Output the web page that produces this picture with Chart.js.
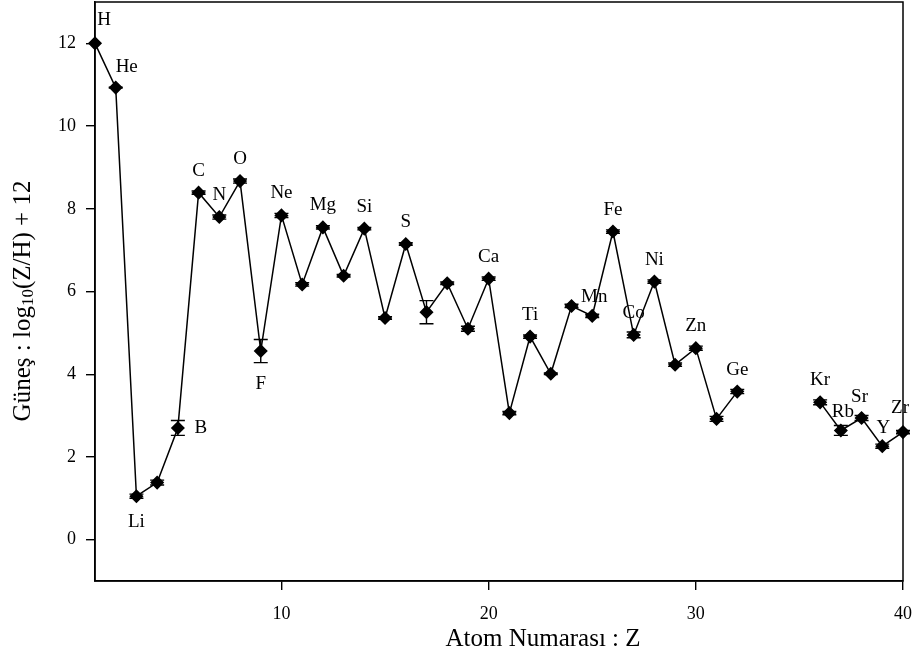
<!DOCTYPE html>
<html>
<head>
<meta charset="utf-8">
<script src="https://cdn.jsdelivr.net/npm/chart.js@4/dist/chart.umd.min.js"></script>
<style>
html, body { margin: 0; padding: 0; background: #fff; }
#wrap { width: 914px; height: 661px; position: relative; }
</style>
</head>
<body>
<div id="wrap"><canvas id="grafico"></canvas></div>
<script>
// Güneş bolluklari: Z, element, log10(Z/H)+12 ve hata
const atomNumbers = [1, 2, 3, 4, 5, 6, 7, 8, 9, 10, 11, 12, 13, 14, 15, 16, 17, 18, 19, 20,
    21, 22, 23, 24, 25, 26, 27, 28, 29, 30, 31, 32, 36, 37, 38, 39, 40];
const symbols = ['H', 'He', 'Li', 'Be', 'B', 'C', 'N', 'O', 'F', 'Ne', 'Na', 'Mg', 'Al', 'Si', 'P', 'S', 'Cl', 'Ar', 'K', 'Ca',
    'Sc', 'Ti', 'V', 'Cr', 'Mn', 'Fe', 'Co', 'Ni', 'Cu', 'Zn', 'Ga', 'Ge', 'Kr', 'Rb', 'Sr', 'Y', 'Zr'];
const abundances = [12.00, 10.93, 1.05, 1.38, 2.70, 8.39, 7.80, 8.67, 4.56, 7.84, 6.17, 7.55, 6.38, 7.52, 5.36, 7.15, 5.50, 6.20, 5.10, 6.31,
    3.06, 4.91, 4.01, 5.65, 5.41, 7.45, 4.95, 6.24, 4.23, 4.63, 2.92, 3.58, 3.32, 2.64, 2.94, 2.26, 2.60];
const errors = [0.00, 0.01, 0.05, 0.06, 0.18, 0.04, 0.05, 0.05, 0.28, 0.05, 0.04, 0.04, 0.03, 0.03, 0.03, 0.03, 0.28, 0.03, 0.06, 0.04,
    0.04, 0.04, 0.02, 0.04, 0.04, 0.04, 0.07, 0.04, 0.04, 0.05, 0.06, 0.05, 0.06, 0.12, 0.06, 0.05, 0.04];
const labelledSymbols = ['H', 'He', 'Li', 'B', 'C', 'N', 'O', 'F', 'Ne', 'Mg', 'Si', 'S', 'Ca', 'Ti', 'Mn',
    'Fe', 'Co', 'Ni', 'Zn', 'Ge', 'Kr', 'Rb', 'Sr', 'Y', 'Zr'];
const xTicks = [10, 20, 30, 40];
const yTicks = [0, 2, 4, 6, 8, 10, 12];

const serif = "'Liberation Serif', 'Times New Roman', serif";

// etiketlerin noktaya gore kaydirmasi (px)
const labelOffset = {
    H: [9, -23], He: [11, -21], Li: [0, 26], B: [23, 0], F: [0, 33], Mn: [2, -19],
    Rb: [2, -18], Sr: [-2, -21], Y: [1, -18], Zr: [-3, -24]
};

const noktalar = atomNumbers.map((z, i) => ({ x: z, y: abundances[i] }));

const hataCubuklari = {
    id: 'hataCubuklari',
    afterDatasetsDraw(chart) {
        const ctx = chart.ctx;
        const xs = chart.scales.x, ys = chart.scales.y;
        ctx.save();
        ctx.strokeStyle = '#000';
        ctx.lineWidth = 1.4;
        atomNumbers.forEach((z, i) => {
            if (!errors[i]) return;
            const px = xs.getPixelForValue(z);
            const yTop = ys.getPixelForValue(abundances[i] + errors[i]);
            const yBot = ys.getPixelForValue(abundances[i] - errors[i]);
            ctx.beginPath();
            ctx.moveTo(px, yTop); ctx.lineTo(px, yBot);
            ctx.moveTo(px - 7, yTop); ctx.lineTo(px + 7, yTop);
            ctx.moveTo(px - 7, yBot); ctx.lineTo(px + 7, yBot);
            ctx.stroke();
        });
        ctx.restore();
    }
};

const etiketler = {
    id: 'etiketler',
    afterDraw(chart) {
        const ctx = chart.ctx;
        const xs = chart.scales.x, ys = chart.scales.y;
        const area = chart.chartArea;
        ctx.save();
        ctx.fillStyle = '#000';
        ctx.textAlign = 'center';
        ctx.textBaseline = 'middle';
        ctx.font = '19px ' + serif;
        symbols.forEach((s, i) => {
            if (!labelledSymbols.includes(s)) return;
            const off = labelOffset[s] || [0, -22];
            ctx.fillText(s, xs.getPixelForValue(atomNumbers[i]) + off[0], ys.getPixelForValue(abundances[i]) + off[1]);
        });

        // cerceve
        ctx.strokeStyle = '#000';
        ctx.lineWidth = 1.5;
        ctx.strokeRect(area.left, area.top, area.right - area.left, area.bottom - area.top);

        // x ekseni basligi
        ctx.font = '25px ' + serif;
        ctx.fillText('Atom Numarası : Z', 543, 639);

        // y ekseni basligi, alt indisli log10
        const parts = [
            { t: 'Güneş : log', f: '25px ' + serif, dy: 0 },
            { t: '10', f: '17px ' + serif, dy: 6 },
            { t: '(Z/H) + 12', f: '25px ' + serif, dy: 0 }
        ];
        let total = 0;
        parts.forEach(p => { ctx.font = p.f; p.w = ctx.measureText(p.t).width; total += p.w; });
        ctx.translate(23, 301);
        ctx.rotate(-Math.PI / 2);
        ctx.textAlign = 'left';
        let x = -total / 2;
        parts.forEach(p => {
            ctx.font = p.f;
            ctx.fillText(p.t, x, p.dy);
            x += p.w;
        });
        ctx.restore();
    }
};

new Chart(document.getElementById('grafico'), {
    type: 'line',
    data: {
        datasets: [{
            data: noktalar,
            borderColor: '#000',
            borderWidth: 1.5,
            backgroundColor: '#000',
            pointBackgroundColor: '#000',
            pointBorderColor: '#000',
            pointStyle: 'rectRot',
            pointRadius: 6,
            tension: 0,
            clip: false,
            segment: {
                // Ge ile Kr arasinda olcum yok
                borderColor: c => (c.p1.parsed.x - c.p0.parsed.x > 1 ? 'rgba(0,0,0,0)' : '#000')
            }
        }]
    },
    options: {
        responsive: true,
        maintainAspectRatio: false,
        animation: false,
        layout: { autoPadding: false, padding: { top: 2, right: 11, left: 0, bottom: 0 } },
        plugins: {
            legend: { display: false },
            tooltip: { enabled: false }
        },
        scales: {
            x: {
                type: 'linear',
                min: 1,
                max: 40,
                afterBuildTicks: s => { s.ticks = xTicks.map(v => ({ value: v })); },
                afterFit: s => { s.height = 80; s.paddingLeft = 0; s.paddingRight = 0; },
                grid: { display: true, drawOnChartArea: false, drawTicks: true, tickLength: 9, color: '#000', lineWidth: 1.4 },
                border: { display: true, color: '#000', width: 1.5 },
                ticks: { color: '#000', font: { family: serif, size: 18 }, padding: 13, maxRotation: 0 }
            },
            y: {
                type: 'linear',
                min: -1,
                max: 13,
                afterBuildTicks: s => { s.ticks = yTicks.map(v => ({ value: v })); },
                afterFit: s => { s.width = 95; s.paddingTop = 0; s.paddingBottom = 0; },
                grid: { display: true, drawOnChartArea: false, drawTicks: true, tickLength: 9, color: '#000', lineWidth: 1.4 },
                border: { display: true, color: '#000', width: 1.5 },
                ticks: { color: '#000', font: { family: serif, size: 18 }, padding: 10 }
            }
        }
    },
    plugins: [hataCubuklari, etiketler]
});
</script>
</body>
</html>
